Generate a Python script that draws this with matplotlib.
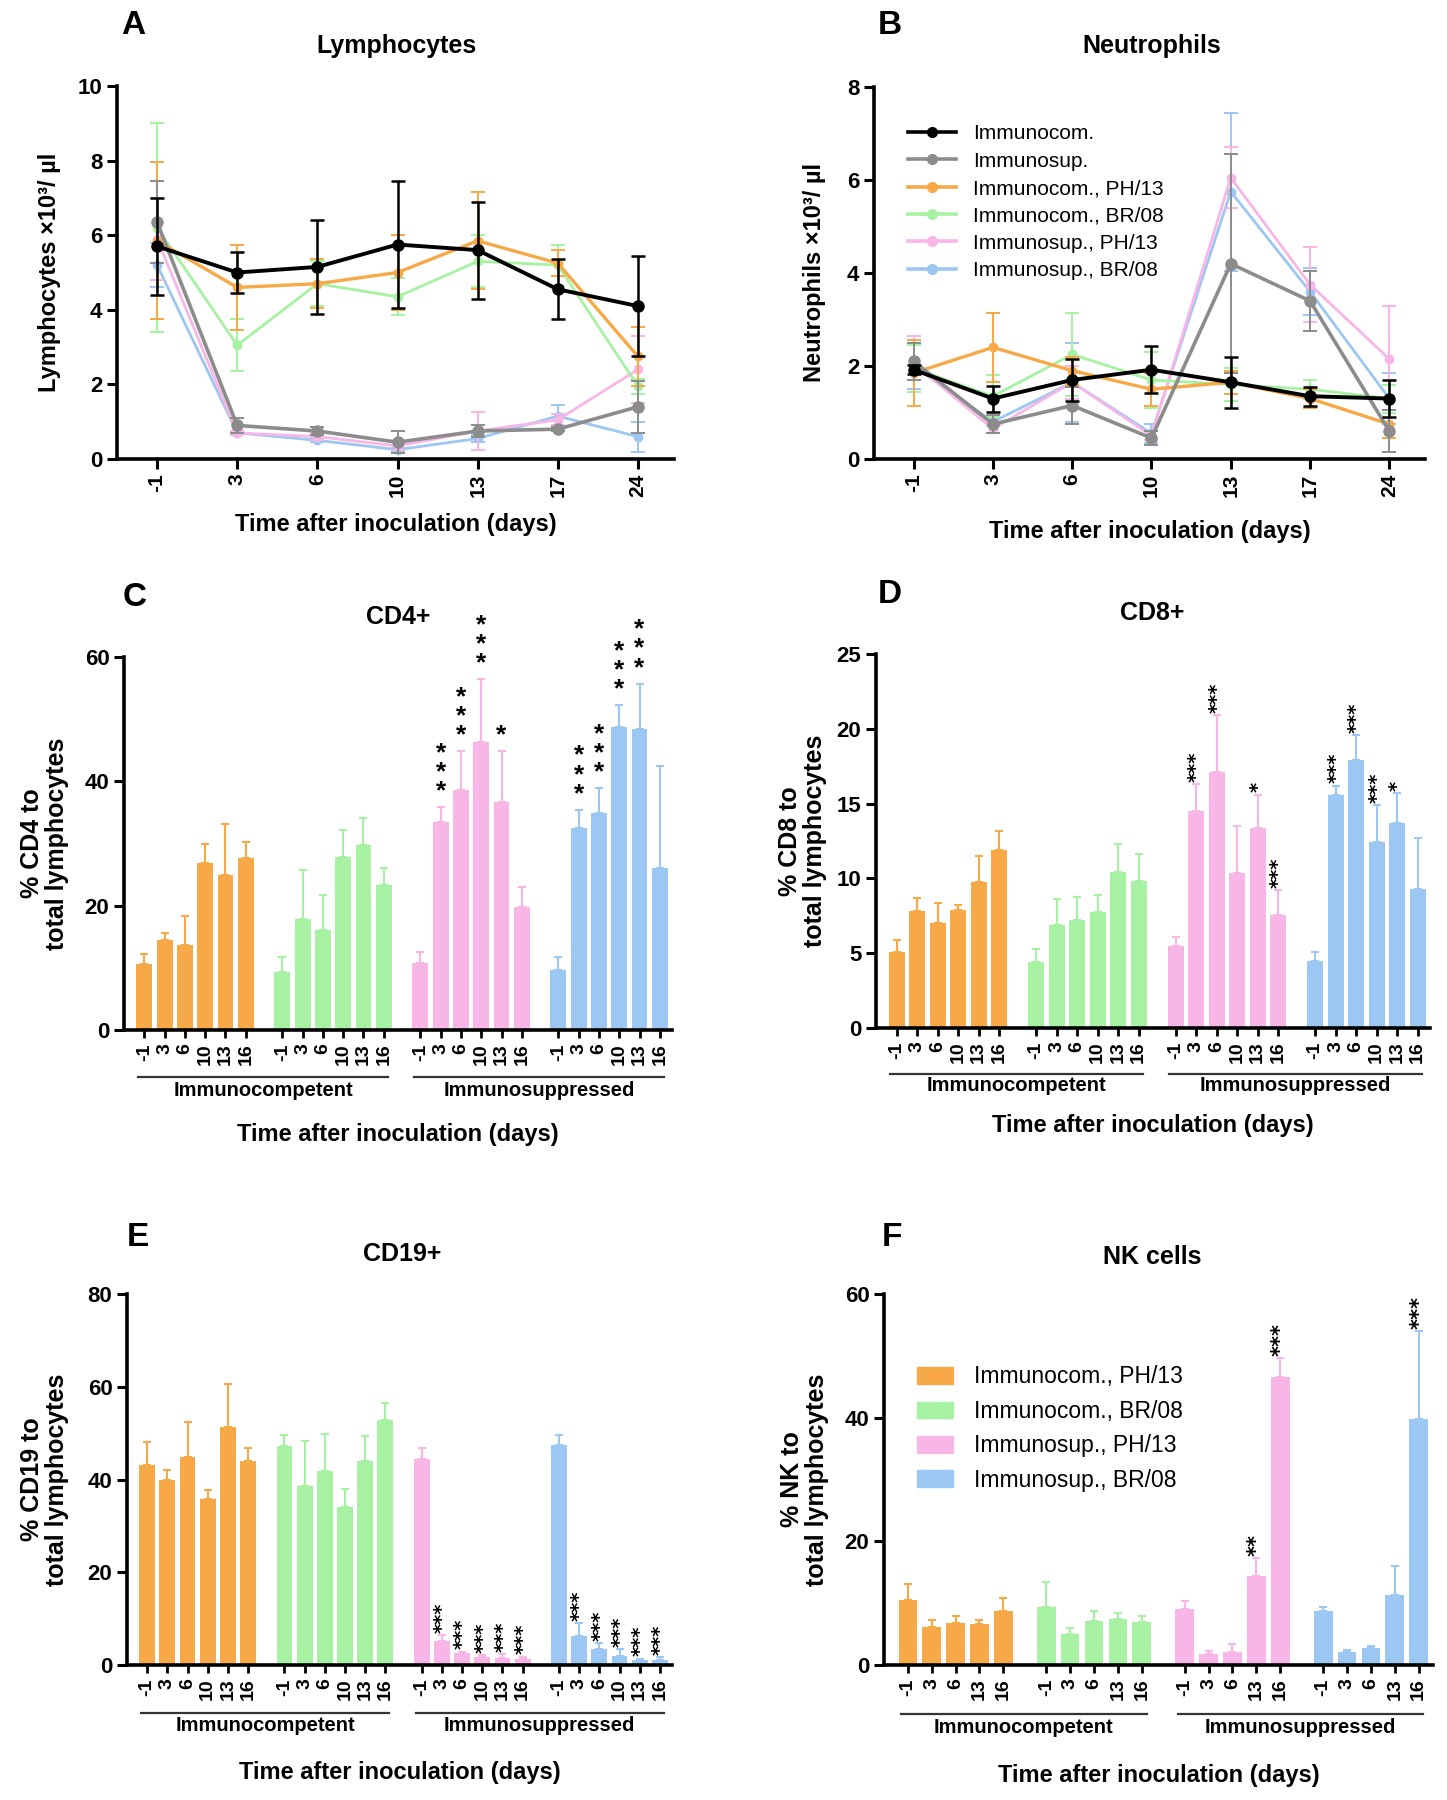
import matplotlib
matplotlib.use("Agg")
import matplotlib.pyplot as plt
import matplotlib.transforms as mtransforms
from matplotlib.patches import Patch
from matplotlib.lines import Line2D

plt.rcParams['font.family'] = ['Liberation Sans', 'DejaVu Sans']

# ---------------- data ----------------
line_days = ['-1', '3', '6', '10', '13', '17', '24']
line_labels = ['Immunocom.', 'Immunosup.', 'Immunocom., PH/13', 'Immunocom., BR/08',
               'Immunosup., PH/13', 'Immunosup., BR/08']

# Lymphocytes (x10^3/ul)
lym_ic = [5.7, 5.0, 5.15, 5.75, 5.6, 4.55, 4.1]
lym_ic_err = [1.3, 0.55, 1.25, 1.7, 1.3, 0.8, 1.35]
lym_is = [6.35, 0.9, 0.75, 0.45, 0.75, 0.8, 1.4]
lym_is_err = [1.1, 0.2, 0.1, 0.3, 0.15, 0.05, 0.7]
lym_ic_ph = [5.85, 4.6, 4.7, 5.0, 5.85, 5.25, 2.75]
lym_ic_ph_err = [2.1, 1.15, 0.65, 1.0, 1.3, 0.35, 0.8]
lym_ic_br = [6.2, 3.05, 4.7, 4.35, 5.3, 5.2, 1.95]
lym_ic_br_err = [2.8, 0.7, 0.6, 0.5, 0.7, 0.55, 0.2]
lym_is_ph = [5.9, 0.7, 0.6, 0.35, 0.75, 1.05, 2.4]
lym_is_ph_err = [1.1, 0.05, 0.1, 0.1, 0.5, 0.15, 0.9]
lym_is_br = [5.2, 0.7, 0.5, 0.25, 0.55, 1.15, 0.6]
lym_is_br_err = [0.6, 0.05, 0.05, 0.05, 0.1, 0.3, 0.4]

# Neutrophils (x10^3/ul)
neu_ic = [1.92, 1.3, 1.7, 1.92, 1.65, 1.35, 1.3]
neu_ic_err = [0.1, 0.28, 0.45, 0.5, 0.55, 0.2, 0.4]
neu_is = [2.1, 0.75, 1.15, 0.45, 4.2, 3.4, 0.6]
neu_is_err = [0.4, 0.2, 0.4, 0.15, 2.35, 0.65, 0.45]
neu_ic_ph = [1.85, 2.4, 1.9, 1.5, 1.65, 1.3, 0.75]
neu_ic_ph_err = [0.7, 0.75, 0.3, 0.35, 0.25, 0.2, 0.3]
neu_ic_br = [1.95, 1.35, 2.25, 1.7, 1.6, 1.5, 1.3]
neu_ic_br_err = [0.5, 0.45, 0.9, 0.6, 0.35, 0.2, 0.3]
neu_is_ph = [2.05, 0.65, 1.65, 0.5, 6.05, 3.75, 2.15]
neu_is_ph_err = [0.6, 0.1, 0.35, 0.1, 0.65, 0.8, 1.15]
neu_is_br = [2.0, 0.8, 1.65, 0.55, 5.75, 3.6, 1.3]
neu_is_br_err = [0.5, 0.1, 0.85, 0.2, 1.7, 0.5, 0.55]

bar_labels = ['Immunocom., PH/13', 'Immunocom., BR/08', 'Immunosup., PH/13', 'Immunosup., BR/08']
bar_days = ['-1', '3', '6', '10', '13', '16']
nk_days = ['-1', '3', '6', '13', '16']

# CD4+ (%)
cd4_ic_ph = [10.65, 14.5, 13.6, 26.9, 24.9, 27.7]
cd4_ic_ph_err = [1.55, 1.1, 4.8, 3.1, 8.3, 2.6]
cd4_ic_br = [9.3, 17.9, 16.1, 27.9, 29.7, 23.3]
cd4_ic_br_err = [2.5, 7.8, 5.6, 4.3, 4.4, 2.7]
cd4_is_ph = [10.8, 33.4, 38.6, 46.3, 36.7, 19.75]
cd4_is_ph_err = [1.8, 2.4, 6.2, 10.1, 8.1, 3.25]
cd4_is_br = [9.7, 32.5, 34.9, 48.8, 48.4, 26.0]
cd4_is_br_err = [2.1, 2.9, 4.0, 3.4, 7.3, 16.4]
cd4_sig_ph = ['', '***', '***', '***', '*', '']
cd4_sig_br = ['', '***', '***', '***', '***', '']

# CD8+ (%)
cd8_ic_ph = [5.05, 7.85, 7.0, 7.9, 9.75, 11.9]
cd8_ic_ph_err = [0.85, 0.85, 1.35, 0.3, 1.75, 1.3]
cd8_ic_br = [4.4, 6.9, 7.2, 7.75, 10.4, 9.85]
cd8_ic_br_err = [0.9, 1.7, 1.55, 1.15, 1.9, 1.75]
cd8_is_ph = [5.5, 14.5, 17.1, 10.35, 13.4, 7.55]
cd8_is_ph_err = [0.6, 1.8, 3.8, 3.15, 2.2, 1.65]
cd8_is_br = [4.5, 15.55, 17.9, 12.4, 13.7, 9.3]
cd8_is_br_err = [0.6, 0.65, 1.7, 2.5, 2.0, 3.4]
cd8_sig_ph = ['', '***', '***', '', '*', '***']
cd8_sig_br = ['', '***', '***', '***', '*', '']

# CD19+ (%)
cd19_ic_ph = [43.1, 40.0, 44.9, 35.8, 51.3, 44.0]
cd19_ic_ph_err = [4.9, 2.0, 7.4, 1.9, 9.3, 2.7]
cd19_ic_br = [47.2, 38.6, 41.9, 34.1, 44.0, 52.8]
cd19_ic_br_err = [2.4, 9.7, 7.9, 3.8, 5.4, 3.6]
cd19_is_ph = [44.4, 5.25, 2.5, 1.65, 1.6, 1.4]
cd19_is_ph_err = [2.3, 1.25, 0.4, 0.55, 0.7, 0.4]
cd19_is_br = [47.4, 6.25, 3.4, 1.95, 1.1, 1.1]
cd19_is_br_err = [2.1, 2.75, 1.3, 1.45, 0.3, 0.55]
cd19_sig_ph = ['', '***', '***', '***', '***', '***']
cd19_sig_br = ['', '***', '***', '***', '***', '***']

# NK cells (%)
nk_ic_ph = [10.45, 6.15, 6.85, 6.55, 8.7]
nk_ic_ph_err = [2.65, 1.05, 1.15, 0.65, 2.2]
nk_ic_br = [9.4, 5.05, 7.1, 7.5, 6.95]
nk_ic_br_err = [4.0, 0.95, 1.7, 0.85, 1.05]
nk_is_ph = [9.1, 1.85, 2.1, 14.4, 46.5]
nk_is_ph_err = [1.25, 0.4, 1.25, 2.9, 3.15]
nk_is_br = [8.8, 2.1, 2.7, 11.4, 39.85]
nk_is_br_err = [0.6, 0.4, 0.35, 4.6, 14.15]
nk_sig_ph = ['', '', '', '**', '***']
nk_sig_br = ['', '', '', '', '***']

# ---------------- style ----------------
C_BLACK = '#000000'
C_GRAY = '#8c8c8c'
C_OR = '#F7A847'
C_GR = '#A6F2A2'
C_PK = '#F7B6E6'
C_BL = '#9CC7F3'

W, H = 1447, 1800
fig = plt.figure(figsize=(W / 100, H / 100), dpi=100)


def rect(l, t, r, b):
    return [l / W, 1 - b / H, (r - l) / W, (b - t) / H]


def style_axes(ax):
    for s in ['top', 'right']:
        ax.spines[s].set_visible(False)
    for s in ['left', 'bottom']:
        ax.spines[s].set_linewidth(2.6)
    ax.tick_params(axis='both', width=2.2, length=7, direction='out')
    for lab in ax.get_yticklabels():
        lab.set_fontweight('bold')
        lab.set_fontsize(16)


def line_panel(ax, series, ylim, yticks, ylabel, ylab_x, xlab_y):
    x = list(range(len(line_days)))
    for vals, errs, col, lw, z, ms in series:
        ax.errorbar(x, vals, yerr=errs, color=col, lw=lw, marker='o', ms=ms,
                    capsize=5, elinewidth=1.4 if col != C_BLACK else 1.8,
                    capthick=1.4 if col != C_BLACK else 1.8, zorder=z)
    ax.set_xlim(-0.5, 6.45)
    ax.set_ylim(*ylim)
    ax.set_yticks(yticks)
    ax.set_xticks(x)
    ax.set_xticklabels(line_days, rotation=90, fontsize=15, fontweight='bold')
    style_axes(ax)
    ax.set_ylabel(ylabel, fontsize=17, fontweight='bold')
    ax.yaxis.set_label_coords(ylab_x, 0.5)
    ax.set_xlabel('Time after inoculation (days)', fontsize=17, fontweight='bold')
    ax.xaxis.set_label_coords(0.5, xlab_y)


def bar_panel(ax, days, groups, sigs, ylim, yticks, ylabel, ylab_x, line_y, glab_y, xlab_y,
              stacked=False, star_fs=19, gap=0.8):
    n = len(days)
    trans = mtransforms.blended_transform_factory(ax.transData, ax.transAxes)
    ticks, ticklabels = [], []
    for k, (vals, errs, col) in enumerate(groups):
        xs = [k * (n + gap) + i for i in range(n)]
        ax.bar(xs, vals, width=0.78, color=col, zorder=2)
        ax.errorbar(xs, vals, yerr=[[0] * n, errs], fmt='none', ecolor=col,
                    elinewidth=1.5, capsize=3, capthick=1.5, zorder=1)
        ticks += xs
        ticklabels += days
        if k in sigs:
            for xi, v, e, s in zip(xs, vals, errs, sigs[k]):
                if not s:
                    continue
                if stacked:
                    ax.text(xi, v + e + ylim[1] * 0.01, '\n'.join(s), ha='center',
                            va='bottom', fontsize=star_fs, fontweight='bold', linespacing=0.75,
                            zorder=3)
                else:
                    ax.text(xi + 0.02, v + e + ylim[1] * 0.006, s, rotation=90, ha='center',
                            va='bottom', fontsize=star_fs, fontweight='bold',
                            family='DejaVu Sans', zorder=3)
    last = 3 * (n + gap) + n - 1
    ax.set_xlim(-1.0, last + 0.6)
    ax.set_ylim(*ylim)
    ax.set_yticks(yticks)
    ax.set_xticks(ticks)
    ax.set_xticklabels(ticklabels, rotation=90, fontsize=14, fontweight='bold')
    style_axes(ax)
    ax.tick_params(axis='x', length=6, width=2)
    ax.set_ylabel(ylabel, fontsize=18, fontweight='bold', linespacing=1.05)
    ax.yaxis.set_label_coords(ylab_x, 0.5)
    ax.set_xlabel('Time after inoculation (days)', fontsize=17, fontweight='bold')
    ax.xaxis.set_label_coords(0.5, xlab_y)
    for k0, name in [(0, 'Immunocompetent'), (2, 'Immunosuppressed')]:
        x0 = k0 * (n + gap) - 0.3
        x1 = (k0 + 1) * (n + gap) + n - 1 + 0.2
        ax.plot([x0, x1], [line_y, line_y], color='#333333', lw=1.6, transform=trans,
                clip_on=False)
        ax.text((x0 + x1) / 2, glab_y, name, transform=trans, ha='center', va='center',
                fontsize=14.5, fontweight='bold')


# ---------------- Panel A ----------------
axA = fig.add_axes(rect(117, 86, 674, 459))
line_panel(axA, [
    (lym_is_br, lym_is_br_err, C_BL, 2.0, 2, 6),
    (lym_is_ph, lym_is_ph_err, C_PK, 2.0, 3, 6),
    (lym_ic_br, lym_ic_br_err, C_GR, 2.0, 4, 6),
    (lym_ic_ph, lym_ic_ph_err, C_OR, 2.4, 5, 6),
    (lym_is, lym_is_err, C_GRAY, 2.6, 6, 8),
    (lym_ic, lym_ic_err, C_BLACK, 2.8, 7, 8),
], (0, 10), [0, 2, 4, 6, 8, 10], 'Lymphocytes ×10³/ µl', -0.1, -0.145)

# ---------------- Panel B ----------------
axB = fig.add_axes(rect(874, 87, 1425, 459))
line_panel(axB, [
    (neu_is_br, neu_is_br_err, C_BL, 2.0, 2, 6),
    (neu_is_ph, neu_is_ph_err, C_PK, 2.0, 3, 6),
    (neu_ic_br, neu_ic_br_err, C_GR, 2.0, 4, 6),
    (neu_ic_ph, neu_ic_ph_err, C_OR, 2.4, 5, 6),
    (neu_is, neu_is_err, C_GRAY, 2.6, 6, 8),
    (neu_ic, neu_ic_err, C_BLACK, 2.8, 7, 8),
], (0, 8), [0, 2, 4, 6, 8], 'Neutrophils ×10³/ µl', -0.088, -0.165)
handles = [Line2D([0], [0], color=c, lw=2.6, marker='o', ms=7)
           for c in [C_BLACK, C_GRAY, C_OR, C_GR, C_PK, C_BL]]
fig.legend(handles, line_labels, loc='upper left', bbox_to_anchor=(898 / W, 1 - 114 / H),
           frameon=False, fontsize=15, handlelength=2.3, handletextpad=0.8,
           labelspacing=0.4, borderpad=0)

# ---------------- Panel C ----------------
axC = fig.add_axes(rect(124, 657, 672, 1030))
bar_panel(axC, bar_days, [
    (cd4_ic_ph, cd4_ic_ph_err, C_OR), (cd4_ic_br, cd4_ic_br_err, C_GR),
    (cd4_is_ph, cd4_is_ph_err, C_PK), (cd4_is_br, cd4_is_br_err, C_BL)],
    {2: cd4_sig_ph, 3: cd4_sig_br}, (0, 60), [0, 20, 40, 60],
    '% CD4 to\ntotal lymphocytes', -0.1, -0.126, -0.163, -0.25, stacked=True, star_fs=19)

# ---------------- Panel D ----------------
axD = fig.add_axes(rect(876, 654, 1430, 1028))
bar_panel(axD, bar_days, [
    (cd8_ic_ph, cd8_ic_ph_err, C_OR), (cd8_ic_br, cd8_ic_br_err, C_GR),
    (cd8_is_ph, cd8_is_ph_err, C_PK), (cd8_is_br, cd8_is_br_err, C_BL)],
    {2: cd8_sig_ph, 3: cd8_sig_br}, (0, 25), [0, 5, 10, 15, 20, 25],
    '% CD8 to\ntotal lymphocytes', -0.088, -0.123, -0.155, -0.23, star_fs=14)

# ---------------- Panel E ----------------
axE = fig.add_axes(rect(127, 1294, 672, 1665))
bar_panel(axE, bar_days, [
    (cd19_ic_ph, cd19_ic_ph_err, C_OR), (cd19_ic_br, cd19_ic_br_err, C_GR),
    (cd19_is_ph, cd19_is_ph_err, C_PK), (cd19_is_br, cd19_is_br_err, C_BL)],
    {2: cd19_sig_ph, 3: cd19_sig_br}, (0, 80), [0, 20, 40, 60, 80],
    '% CD19 to\ntotal lymphocytes', -0.106, -0.129, -0.164, -0.26, star_fs=14)

# ---------------- Panel F ----------------
axF = fig.add_axes(rect(884, 1294, 1433, 1665))
bar_panel(axF, nk_days, [
    (nk_ic_ph, nk_ic_ph_err, C_OR), (nk_ic_br, nk_ic_br_err, C_GR),
    (nk_is_ph, nk_is_ph_err, C_PK), (nk_is_br, nk_is_br_err, C_BL)],
    {2: nk_sig_ph, 3: nk_sig_br}, (0, 60), [0, 20, 40, 60],
    '% NK to\ntotal lymphocytes', -0.1, -0.132, -0.169, -0.268, star_fs=15)
phandles = [Patch(color=c) for c in [C_OR, C_GR, C_PK, C_BL]]
fig.legend(phandles, bar_labels, loc='upper left', bbox_to_anchor=(906 / W, 1 - 1354 / H),
           frameon=False, fontsize=16.5, handlelength=1.55, handleheight=0.75,
           handletextpad=0.9, labelspacing=0.5, borderpad=0)

# ---------------- titles and panel letters ----------------
titles = [('Lymphocytes', 396, 46), ('Neutrophils', 1152, 46), ('CD4+', 398, 617),
          ('CD8+', 1152, 613), ('CD19+', 402, 1254), ('NK cells', 1152, 1257)]
for t, x, y in titles:
    fig.text(x / W, 1 - y / H, t, ha='center', va='center', fontsize=18, fontweight='bold')
letters = [('A', 133, 25), ('B', 890, 25), ('C', 135, 597), ('D', 890, 595),
           ('E', 138, 1237), ('F', 892, 1238)]
for t, x, y in letters:
    fig.text(x / W, 1 - y / H, t, ha='center', va='center', fontsize=24, fontweight='bold')

fig.savefig('out.png', dpi=100, facecolor='white')
